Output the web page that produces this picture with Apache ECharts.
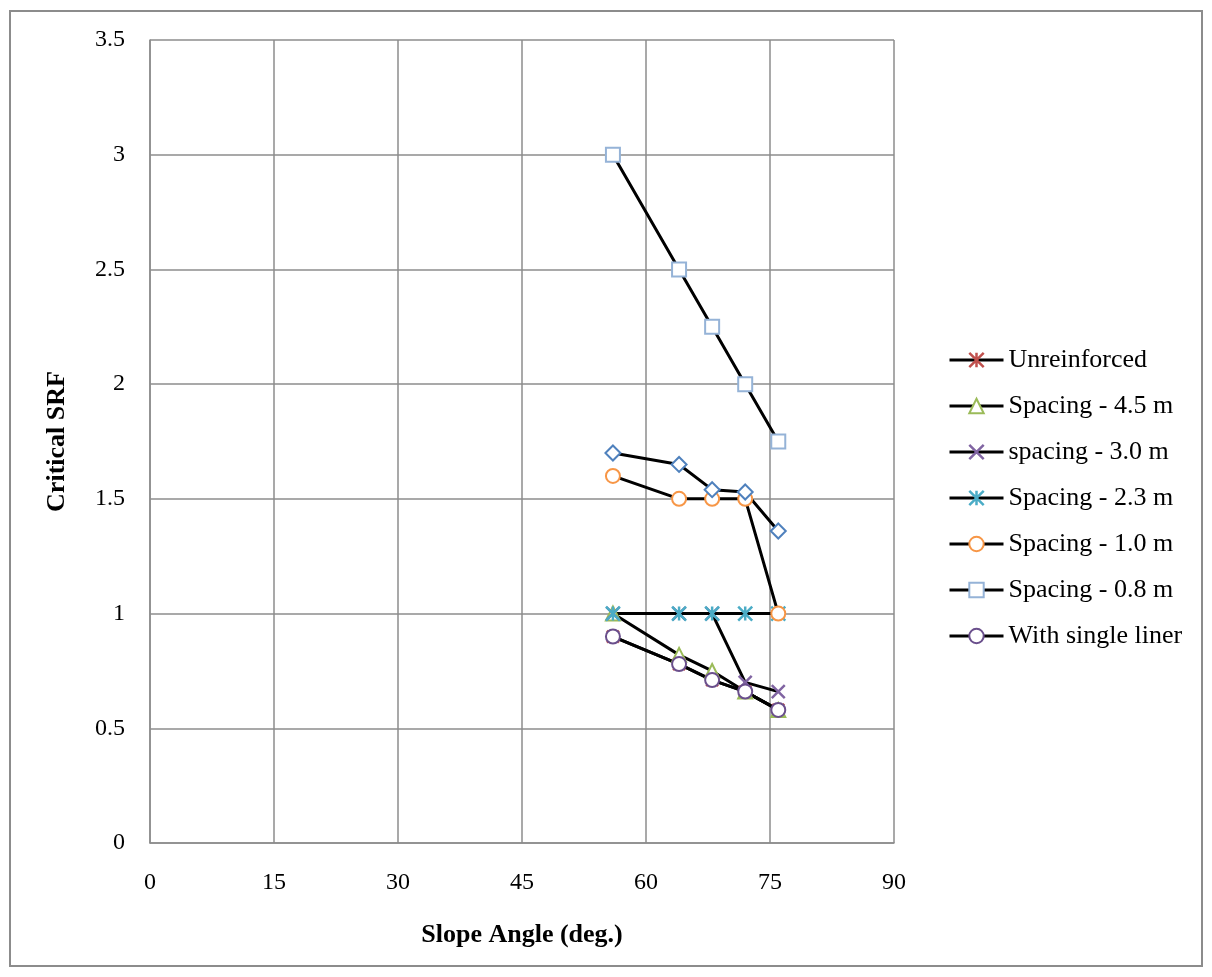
<!DOCTYPE html>
<html>
<head>
<meta charset="utf-8">
<script src="https://cdn.jsdelivr.net/npm/echarts@6/dist/echarts.min.js"></script>
<style>
  html, body { margin: 0; padding: 0; background: #fff; }
  #frame { position: absolute; left: 9px; top: 10px; width: 1194px; height: 957px; border: 2px solid #8c8c8c; box-sizing: border-box; }
  #chart { position: absolute; left: 0; top: 0; width: 1212px; height: 977px; }
</style>
</head>
<body>
<div id="frame"></div>
<div id="chart"></div>
<script>
// Slope angles (deg.)
const slopeAngles = [56, 64, 68, 72, 76];
const xTicks = [0, 15, 30, 45, 60, 75, 90];
const yTicks = [0, 0.5, 1, 1.5, 2, 2.5, 3, 3.5];

// Critical SRF per case
const unreinforced   = [0.90, 0.78, 0.71, 0.66, 0.58];
const spacing45      = [1.00, 0.82, 0.75, 0.66, 0.58];
const spacing30      = [1.00, 1.00, 1.00, 0.70, 0.66];
const spacing23      = [1.00, 1.00, 1.00, 1.00, 1.00];
const spacing10      = [1.60, 1.50, 1.50, 1.50, 1.00];
const spacing08      = [3.00, 2.50, 2.25, 2.00, 1.75];
const combinedCase   = [1.70, 1.65, 1.54, 1.53, 1.36];
const singleLiner    = [0.90, 0.78, 0.71, 0.66, 0.58];

const seriesNames = [
  'Unreinforced', 'Spacing - 4.5 m', 'spacing - 3.0 m', 'Spacing - 2.3 m',
  'Spacing - 1.0 m', 'Spacing - 0.8 m', 'With single liner'
];

// Star marker: an X with a vertical stroke through it
const STAR = 'path://M0,-10L0,10M-10,-10L10,10M-10,10L10,-10';
const CROSS = 'path://M-10,-10L10,10M-10,10L10,-10';

function pairs(vals) { return slopeAngles.map((x, i) => [x, vals[i]]); }

function lineSeries(name, vals, symbol, color, size) {
  return {
    name: name,
    type: 'line',
    data: pairs(vals),
    symbol: symbol,
    symbolSize: size,
    showAllSymbol: true,
    lineStyle: { color: '#000', width: 3 },
    itemStyle: { color: color, borderColor: color, borderWidth: 2.5 },
    emphasis: { disabled: true },
    animation: false
  };
}

const chart = echarts.init(document.getElementById('chart'), null, { renderer: 'canvas' });
const font = '"Liberation Serif", "Times New Roman", serif';

chart.setOption({
  backgroundColor: 'transparent',
  textStyle: { fontFamily: font },
  grid: { left: 150, top: 40, right: 318, bottom: 134, containLabel: false },
  xAxis: {
    type: 'value', min: 0, max: 90, interval: 15,
    name: 'Slope Angle (deg.)', nameLocation: 'middle', nameGap: 79,
    nameTextStyle: { fontFamily: font, fontSize: 26, fontWeight: 'bold', color: '#000' },
    axisLine: { show: true, lineStyle: { color: '#8c8c8c', width: 1.5 } },
    axisTick: { show: false },
    axisLabel: { fontFamily: font, fontSize: 24, color: '#000', margin: 28,
      formatter: v => xTicks.includes(v) ? String(v) : '' },
    splitLine: { show: true, lineStyle: { color: '#8c8c8c', width: 1.5 } }
  },
  yAxis: {
    type: 'value', min: 0, max: 3.5, interval: 0.5,
    name: 'Critical SRF', nameLocation: 'middle', nameGap: 80, nameRotate: 90,
    nameTextStyle: { fontFamily: font, fontSize: 26, fontWeight: 'bold', color: '#000' },
    axisLine: { show: true, lineStyle: { color: '#8c8c8c', width: 1.5 } },
    axisTick: { show: false },
    axisLabel: { fontFamily: font, fontSize: 24, color: '#000', margin: 25,
      formatter: v => yTicks.includes(v) ? String(v) : '' },
    splitLine: { show: true, lineStyle: { color: '#8c8c8c', width: 1.5 } }
  },
  legend: {
    data: seriesNames,
    orient: 'vertical',
    left: 943, top: 342,
    itemGap: 20,
    itemWidth: 54, itemHeight: 18,
    lineStyle: { width: 3, color: '#000' },
    itemStyle: { borderWidth: 2.5 },
    textStyle: { fontFamily: font, fontSize: 26, color: '#000' }
  },
  series: [
    lineSeries('Unreinforced', unreinforced, STAR, '#C0504D', 12),
    lineSeries('Spacing - 4.5 m', spacing45, 'emptyTriangle', '#9BBB59', 14),
    lineSeries('spacing - 3.0 m', spacing30, CROSS, '#8064A2', 13),
    lineSeries('Spacing - 2.3 m', spacing23, STAR, '#4BACC6', 14),
    lineSeries('Spacing - 1.0 m', spacing10, 'emptyCircle', '#F79646', 14),
    lineSeries('Spacing - 0.8 m', spacing08, 'emptyRect', '#95B3D7', 14),
    lineSeries('Combined', combinedCase, 'emptyDiamond', '#4F81BD', 15),
    lineSeries('With single liner', singleLiner, 'emptyCircle', '#6A4F8C', 14)
  ]
});
</script>
</body>
</html>
